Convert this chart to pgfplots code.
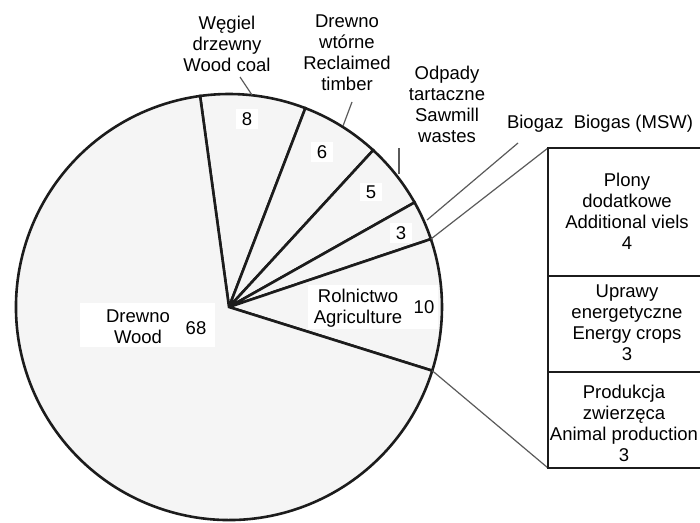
\documentclass[border=0pt]{standalone}
\usepackage{pgfplots}
\pgfplotsset{compat=1.18}
\usepackage{pgfplotstable}
\usepackage{fontspec}
\setmainfont{Liberation Sans}

% Shares of the pie, clockwise from the top
\pgfplotstableread{
share name
8  coal
6  reclaimed
5  sawmill
3  biogas
10 agriculture
68 wood
}\pieshares

% Breakdown of agriculture, stacked from the bottom of the column
\pgfplotstableread{
share name
3 animal
3 crops
4 additional
}\agrishares

\definecolor{piefill}{RGB}{245,245,245}
\definecolor{edge}{RGB}{28,28,28}
\definecolor{leadergray}{RGB}{90,90,90}

\begin{document}
\begin{tikzpicture}
% pie centre and radius, in axis units
\def\cx{229}\def\cy{307}\def\R{213}
% column of the agriculture breakdown
\def\colL{548}\def\colR{712}\def\colBottom{468}\def\colUnit{32}

% slice angles from the shares (3.6 degrees per percent, clockwise)
\xdef\angacc{97.8}
\foreach \i in {0,...,5}{
  \pgfplotstablegetelem{\i}{share}\of\pieshares
  \pgfmathsetmacro\a{\angacc}
  \pgfmathsetmacro\b{\angacc-3.6*\pgfplotsretval}
  \expandafter\xdef\csname sA\i\endcsname{\a}
  \expandafter\xdef\csname sB\i\endcsname{\b}
  \xdef\angacc{\b}
}
% cell limits of the column from the breakdown
\xdef\colacc{\colBottom}
\foreach \i in {0,...,2}{
  \pgfplotstablegetelem{\i}{share}\of\agrishares
  \pgfmathsetmacro\a{\colacc}
  \pgfmathsetmacro\b{\colacc-\colUnit*\pgfplotsretval}
  \expandafter\xdef\csname cA\i\endcsname{\a}
  \expandafter\xdef\csname cB\i\endcsname{\b}
  \xdef\colacc{\b}
}

\begin{axis}[
  name=ax,
  scale only axis,
  width=700pt, height=522pt,
  xmin=0, xmax=700, ymin=0, ymax=522,
  y dir=reverse,
  hide axis,
  clip=false,
]
\tikzset{
  lbl/.style={font=\fontsize{18.5}{21}\selectfont, align=center, inner sep=0pt},
  num/.style={font=\fontsize{18.5}{21}\selectfont, fill=white, inner xsep=6pt, inner ysep=3pt},
  leader/.style={draw=leadergray, line width=1.2pt},
}

% slices
\pgfplotsinvokeforeach{0,...,5}{
  \filldraw[fill=piefill, draw=edge, line width=2.6pt, line join=miter]
    (axis cs:\cx,\cy) -- ++(\csname sA#1\endcsname:\R pt)
    arc[start angle=\csname sA#1\endcsname, end angle=\csname sB#1\endcsname, radius=\R pt]
    -- cycle;
}

% connectors from the agriculture slice to the column
\draw[leader] (axis cs:\cx,\cy) ++(\csname sA4\endcsname:\R pt) -- (axis cs:\colL,148);
\draw[leader] (axis cs:\cx,\cy) ++(\csname sB4\endcsname:\R pt) -- (axis cs:\colL,\colBottom);

% column cells
\pgfplotsinvokeforeach{0,...,2}{
  \filldraw[fill=white, draw=edge, line width=2.6pt]
    (axis cs:\colL,\csname cA#1\endcsname) rectangle (axis cs:\colR,\csname cB#1\endcsname);
}

% leader lines of the outer labels
\draw[leader] (axis cs:240,77) -- (axis cs:252,95);
\draw[leader] (axis cs:352,102) -- (axis cs:343,126);
\draw[leader] (axis cs:399,148) -- (axis cs:399,174);
\draw[leader] (axis cs:427,220) -- (axis cs:518,143);

% outer labels
\node[lbl] at (axis cs:227,44) {Węgiel\\drzewny\\Wood coal};
\node[lbl] at (axis cs:347,53) {Drewno\\wtórne\\Reclaimed\\timber};
\node[lbl] at (axis cs:447,104) {Odpady\\tartaczne\\Sawmill\\wastes};
\node[lbl] at (axis cs:600,124) {Biogaz\hspace{0.55em}Biogas (MSW)};

% values inside the pie
\node[num] at (axis cs:247,119) {8};
\node[num] at (axis cs:322,152) {6};
\node[num] at (axis cs:371,192) {5};
\node[num] at (axis cs:401,233) {3};
\fill[white] (axis cs:80,303) rectangle (axis cs:215,347);
\node[lbl] at (axis cs:138,327) {Drewno\\Wood};
\node[lbl] at (axis cs:196,328) {68};
\fill[white] (axis cs:308,285) rectangle (axis cs:438,329);
\node[lbl] at (axis cs:358,308) {Rolnictwo\\Agriculture};
\node[lbl] at (axis cs:424,307) {10};

% column labels
\node[lbl] at (axis cs:627,211) {Plony\\dodatkowe\\Additional viels\\4};
\node[lbl] at (axis cs:627,323) {Uprawy\\energetyczne\\Energy crops\\3};
\node[lbl] at (axis cs:624,423) {Produkcja\\zwierzęca\\Animal production\\3};
\end{axis}
\pgfresetboundingbox
\path[use as bounding box] (ax.south west) rectangle (ax.north east);
\end{tikzpicture}
\end{document}
